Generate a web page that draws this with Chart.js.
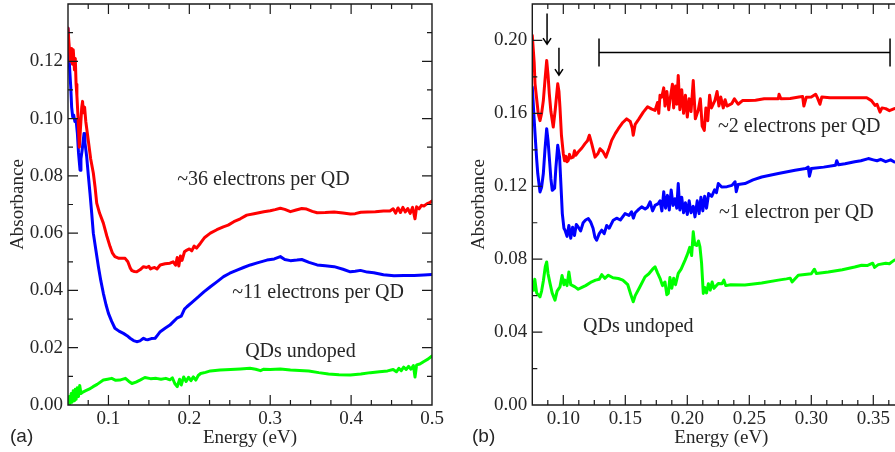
<!DOCTYPE html>
<html><head><meta charset="utf-8">
<script src="https://cdn.jsdelivr.net/npm/chart.js@4/dist/chart.umd.min.js"></script>
<style>
html,body{margin:0;padding:0;background:#fff;overflow:hidden;width:895px;height:452px;position:relative;}
#wa{position:absolute;left:0;top:0;width:445px;height:452px;}
#wb{position:absolute;left:445px;top:0;width:480px;height:452px;}
canvas{display:block;}
</style></head><body>
<div id="wa"><canvas id="ca" width="445" height="452"></canvas></div>
<div id="wb"><canvas id="cb" width="480" height="452"></canvas></div>
<script>
// ---------- Panel (a) data: [energy eV, absorbance] ----------
const aLabels = ["~36 electrons per QD", "~11 electrons per QD", "QDs undoped"];
const aXTicks = [0.1, 0.2, 0.3, 0.4, 0.5];
const aYTicks = [0.00, 0.02, 0.04, 0.06, 0.08, 0.10, 0.12];
const aRed = [[0.050,0.1315],[0.0515,0.125],[0.053,0.120],[0.0545,0.1245],[0.0555,0.119],[0.0565,0.124],[0.058,0.117],[0.059,0.121],[0.060,0.112],[0.061,0.108],[0.0625,0.100],[0.064,0.090],[0.0655,0.097],[0.067,0.104],[0.068,0.106],[0.069,0.102],[0.0705,0.104],[0.072,0.099],[0.075,0.0925],[0.078,0.086],[0.0813,0.081],[0.0835,0.076],[0.0855,0.0705],[0.089,0.067],[0.0937,0.0635],[0.098,0.059],[0.102,0.0553],[0.105,0.053],[0.108,0.0518],[0.113,0.0512],[0.1206,0.0512],[0.124,0.050],[0.127,0.0478],[0.129,0.0469],[0.132,0.0466],[0.135,0.0465],[0.139,0.0472],[0.1433,0.0483],[0.147,0.048],[0.150,0.0484],[0.152,0.0475],[0.154,0.0478],[0.157,0.048],[0.160,0.0475],[0.164,0.0489],[0.170,0.0493],[0.176,0.0495],[0.180,0.050],[0.183,0.0488],[0.185,0.0515],[0.187,0.0485],[0.189,0.052],[0.191,0.0505],[0.194,0.0535],[0.197,0.0541],[0.200,0.0545],[0.203,0.0538],[0.206,0.0555],[0.209,0.0548],[0.2135,0.0564],[0.219,0.0585],[0.226,0.060],[0.234,0.0612],[0.242,0.0622],[0.248,0.0628],[0.255,0.064],[0.263,0.065],[0.271,0.0663],[0.280,0.0668],[0.292,0.0675],[0.300,0.0678],[0.306,0.0682],[0.3125,0.0687],[0.318,0.0683],[0.325,0.0675],[0.332,0.0681],[0.339,0.0686],[0.345,0.0684],[0.352,0.0676],[0.358,0.0671],[0.368,0.0672],[0.379,0.0674],[0.390,0.067],[0.399,0.0667],[0.405,0.0668],[0.412,0.0673],[0.420,0.0674],[0.430,0.0675],[0.440,0.0677],[0.448,0.0677],[0.452,0.0685],[0.455,0.067],[0.458,0.0688],[0.461,0.0672],[0.464,0.069],[0.467,0.0674],[0.470,0.0686],[0.473,0.0669],[0.476,0.069],[0.479,0.065],[0.481,0.0692],[0.484,0.0685],[0.487,0.0697],[0.490,0.0695],[0.494,0.0703],[0.497,0.0706],[0.500,0.0712]];
const aBlue = [[0.050,0.1315],[0.0515,0.120],[0.0534,0.111],[0.0545,0.104],[0.0558,0.1006],[0.057,0.1012],[0.0585,0.099],[0.060,0.0995],[0.0616,0.0948],[0.063,0.088],[0.0649,0.082],[0.066,0.086],[0.0675,0.089],[0.0698,0.0948],[0.071,0.0915],[0.0731,0.0867],[0.0752,0.080],[0.0772,0.0739],[0.0793,0.067],[0.0813,0.060],[0.0845,0.054],[0.0876,0.0483],[0.0905,0.0435],[0.0937,0.039],[0.097,0.035],[0.100,0.032],[0.104,0.0292],[0.108,0.0268],[0.113,0.0258],[0.1185,0.025],[0.123,0.0242],[0.1268,0.0233],[0.131,0.0225],[0.135,0.0221],[0.139,0.0224],[0.1433,0.0233],[0.146,0.0229],[0.149,0.0228],[0.153,0.0232],[0.1577,0.0233],[0.161,0.0245],[0.164,0.0256],[0.170,0.0268],[0.176,0.0279],[0.180,0.029],[0.1846,0.0303],[0.190,0.031],[0.194,0.0335],[0.197,0.0343],[0.204,0.036],[0.2114,0.0378],[0.218,0.0395],[0.226,0.0413],[0.234,0.043],[0.2423,0.0448],[0.250,0.046],[0.259,0.0471],[0.267,0.048],[0.2754,0.0489],[0.285,0.0497],[0.296,0.0506],[0.305,0.051],[0.3125,0.0518],[0.318,0.0508],[0.325,0.0504],[0.333,0.0506],[0.339,0.0508],[0.348,0.0498],[0.358,0.0489],[0.368,0.0486],[0.379,0.0483],[0.390,0.0474],[0.399,0.0465],[0.405,0.0467],[0.4115,0.047],[0.420,0.0464],[0.428,0.0462],[0.440,0.0455],[0.453,0.0451],[0.465,0.0452],[0.478,0.0452],[0.490,0.0454],[0.500,0.0456]];
const aGreen = [[0.050,0.0006],[0.0515,0.003],[0.0525,0.0005],[0.054,0.004],[0.055,0.001],[0.0565,0.005],[0.058,0.0015],[0.059,0.0055],[0.060,0.002],[0.0615,0.006],[0.063,0.003],[0.0645,0.0068],[0.066,0.004],[0.069,0.0046],[0.072,0.005],[0.076,0.0055],[0.081,0.0064],[0.086,0.0072],[0.0937,0.0087],[0.099,0.009],[0.104,0.0093],[0.109,0.0086],[0.114,0.0087],[0.121,0.0093],[0.125,0.0083],[0.129,0.0075],[0.134,0.008],[0.139,0.0087],[0.145,0.0096],[0.152,0.0092],[0.159,0.0093],[0.165,0.009],[0.171,0.0093],[0.176,0.0088],[0.179,0.0095],[0.182,0.0075],[0.185,0.0064],[0.188,0.009],[0.190,0.007],[0.193,0.0098],[0.196,0.0082],[0.199,0.0097],[0.202,0.0085],[0.205,0.0098],[0.208,0.0087],[0.211,0.0103],[0.214,0.011],[0.220,0.0114],[0.226,0.0119],[0.238,0.0122],[0.251,0.0124],[0.263,0.0126],[0.275,0.0128],[0.282,0.0125],[0.288,0.012],[0.292,0.0125],[0.300,0.0124],[0.3125,0.0126],[0.325,0.0122],[0.3476,0.0119],[0.360,0.0113],[0.372,0.0108],[0.385,0.0106],[0.399,0.0105],[0.412,0.0108],[0.424,0.0113],[0.435,0.0116],[0.445,0.0119],[0.452,0.0124],[0.456,0.0116],[0.459,0.0128],[0.462,0.012],[0.465,0.0132],[0.468,0.0124],[0.471,0.0135],[0.474,0.0125],[0.477,0.0138],[0.479,0.0098],[0.481,0.014],[0.485,0.0143],[0.490,0.0152],[0.495,0.016],[0.500,0.0171]];

// ---------- Panel (b) data ----------
const bLabels = ["~2 electrons per QD", "~1 electron per QD", "QDs undoped"];
const bXTicks = [0.10, 0.15, 0.20, 0.25, 0.30, 0.35];
const bYTicks = [0.00, 0.04, 0.08, 0.12, 0.16, 0.20];
const bArrowsE = [0.0869, 0.0965];
const bArrowsTop = [0.2148, 0.196];
const bArrowsTip = [0.198, 0.181];
const bRangeE = [0.1288, 0.3635];
const bRangeA = 0.1934;
const bRed = [[0.075,0.2027],[0.0765,0.188],[0.0772,0.1762],[0.0785,0.168],[0.0798,0.1598],[0.0812,0.156],[0.0825,0.160],[0.0839,0.167],[0.0852,0.178],[0.0866,0.189],[0.0877,0.181],[0.0887,0.1708],[0.090,0.161],[0.0919,0.1525],[0.0935,0.162],[0.0955,0.1762],[0.0965,0.172],[0.0973,0.1635],[0.0985,0.148],[0.100,0.1379],[0.101,0.134],[0.102,0.1365],[0.103,0.1335],[0.104,0.1342],[0.105,0.1375],[0.106,0.1355],[0.108,0.136],[0.109,0.1395],[0.110,0.137],[0.112,0.1388],[0.115,0.141],[0.1175,0.1434],[0.1195,0.145],[0.121,0.148],[0.1229,0.1434],[0.1245,0.139],[0.1256,0.136],[0.128,0.138],[0.1296,0.1406],[0.132,0.139],[0.1344,0.136],[0.137,0.141],[0.139,0.1452],[0.142,0.149],[0.1444,0.1516],[0.148,0.155],[0.1511,0.157],[0.154,0.1555],[0.1556,0.152],[0.1564,0.148],[0.158,0.154],[0.161,0.157],[0.1645,0.1607],[0.168,0.1636],[0.171,0.1625],[0.174,0.1616],[0.176,0.166],[0.177,0.160],[0.178,0.170],[0.1794,0.1689],[0.181,0.174],[0.182,0.164],[0.1835,0.172],[0.185,0.162],[0.186,0.1671],[0.188,0.176],[0.189,0.163],[0.1905,0.175],[0.1915,0.165],[0.1927,0.1808],[0.194,0.162],[0.1955,0.173],[0.197,0.160],[0.1985,0.170],[0.200,0.158],[0.2015,0.168],[0.203,0.161],[0.2048,0.178],[0.2065,0.157],[0.2089,0.162],[0.2105,0.168],[0.212,0.153],[0.2137,0.1507],[0.215,0.163],[0.2165,0.156],[0.218,0.170],[0.2195,0.163],[0.2223,0.1671],[0.224,0.172],[0.2255,0.164],[0.227,0.169],[0.229,0.163],[0.2305,0.1675],[0.232,0.164],[0.2358,0.1653],[0.238,0.168],[0.241,0.165],[0.2445,0.167],[0.2492,0.1671],[0.255,0.1672],[0.262,0.168],[0.2734,0.168],[0.274,0.1705],[0.2755,0.168],[0.283,0.1682],[0.290,0.169],[0.293,0.1692],[0.294,0.164],[0.296,0.1689],[0.300,0.169],[0.3035,0.1705],[0.305,0.1685],[0.307,0.165],[0.3085,0.169],[0.315,0.1686],[0.3272,0.1686],[0.335,0.1686],[0.3447,0.1686],[0.3485,0.167],[0.3514,0.1644],[0.353,0.165],[0.3554,0.1607],[0.357,0.163],[0.360,0.1626],[0.363,0.1615],[0.367,0.1626]];
const bBlue = [[0.075,0.1744],[0.0762,0.160],[0.0772,0.1489],[0.0785,0.135],[0.0794,0.127],[0.0812,0.1169],[0.0825,0.1195],[0.0839,0.127],[0.0852,0.140],[0.0866,0.1516],[0.0877,0.145],[0.0887,0.136],[0.090,0.124],[0.0911,0.1178],[0.093,0.119],[0.094,0.130],[0.0955,0.1425],[0.097,0.136],[0.0985,0.115],[0.0992,0.105],[0.1005,0.097],[0.1014,0.0959],[0.103,0.0925],[0.1045,0.0985],[0.106,0.0915],[0.1075,0.0975],[0.109,0.093],[0.1105,0.099],[0.112,0.0977],[0.114,0.0955],[0.116,0.100],[0.118,0.1015],[0.1202,0.1023],[0.122,0.1005],[0.124,0.097],[0.1255,0.092],[0.1269,0.0904],[0.129,0.094],[0.131,0.0959],[0.133,0.094],[0.135,0.0985],[0.137,0.097],[0.1403,0.1014],[0.143,0.1025],[0.146,0.1015],[0.1498,0.105],[0.153,0.104],[0.155,0.106],[0.1565,0.1025],[0.158,0.1055],[0.161,0.1075],[0.1632,0.1087],[0.166,0.1075],[0.168,0.1085],[0.170,0.1115],[0.172,0.1065],[0.174,0.1095],[0.1766,0.1105],[0.178,0.112],[0.1795,0.1065],[0.181,0.117],[0.1825,0.108],[0.184,0.115],[0.1855,0.107],[0.187,0.118],[0.1885,0.1095],[0.190,0.1132],[0.1915,0.108],[0.1927,0.1215],[0.194,0.107],[0.1955,0.114],[0.197,0.1055],[0.1985,0.111],[0.200,0.1045],[0.2015,0.112],[0.203,0.1055],[0.2048,0.109],[0.2062,0.1032],[0.208,0.112],[0.2095,0.105],[0.211,0.114],[0.2125,0.1065],[0.214,0.1145],[0.2155,0.108],[0.2172,0.116],[0.2197,0.1145],[0.222,0.118],[0.2235,0.1165],[0.225,0.1215],[0.2277,0.1196],[0.232,0.1198],[0.236,0.1205],[0.2385,0.1225],[0.2395,0.117],[0.241,0.121],[0.2465,0.1215],[0.253,0.1235],[0.260,0.1251],[0.2734,0.127],[0.2869,0.1288],[0.2955,0.1297],[0.2975,0.1305],[0.2985,0.1255],[0.300,0.1297],[0.310,0.1305],[0.3195,0.1315],[0.3205,0.134],[0.322,0.1318],[0.3272,0.1324],[0.335,0.1335],[0.340,0.134],[0.346,0.1352],[0.350,0.1345],[0.353,0.134],[0.356,0.1348],[0.360,0.1335],[0.364,0.1345],[0.367,0.1333]];
const bGreen = [[0.075,0.0676],[0.0762,0.063],[0.077,0.069],[0.0785,0.0615],[0.0812,0.0593],[0.0825,0.0625],[0.0839,0.068],[0.0855,0.076],[0.0866,0.0785],[0.0877,0.072],[0.0893,0.0667],[0.091,0.0615],[0.0933,0.0575],[0.095,0.0625],[0.0973,0.0648],[0.099,0.071],[0.1005,0.066],[0.1014,0.0685],[0.103,0.0655],[0.1045,0.073],[0.106,0.066],[0.1094,0.0648],[0.112,0.0635],[0.115,0.0645],[0.118,0.0655],[0.1229,0.0676],[0.126,0.0685],[0.129,0.069],[0.131,0.0715],[0.1335,0.0695],[0.1363,0.0712],[0.140,0.0698],[0.1444,0.0694],[0.148,0.0685],[0.152,0.066],[0.1545,0.0605],[0.1564,0.0566],[0.158,0.060],[0.1615,0.0645],[0.1659,0.0703],[0.169,0.072],[0.172,0.0745],[0.174,0.0758],[0.176,0.0725],[0.178,0.0695],[0.180,0.0655],[0.182,0.0675],[0.1835,0.0605],[0.1847,0.0612],[0.186,0.070],[0.1875,0.064],[0.189,0.0695],[0.1905,0.066],[0.1927,0.0722],[0.195,0.0745],[0.1982,0.0795],[0.200,0.0825],[0.202,0.0865],[0.2035,0.082],[0.2048,0.095],[0.206,0.088],[0.2075,0.0875],[0.209,0.090],[0.2102,0.0867],[0.2115,0.078],[0.2129,0.0612],[0.214,0.0645],[0.2155,0.0615],[0.217,0.0665],[0.2185,0.063],[0.220,0.0675],[0.2215,0.064],[0.225,0.0667],[0.228,0.0665],[0.2295,0.0685],[0.231,0.0655],[0.235,0.066],[0.2465,0.0658],[0.260,0.0669],[0.2734,0.0685],[0.280,0.0692],[0.283,0.0696],[0.2845,0.0675],[0.2895,0.0712],[0.300,0.072],[0.3025,0.0745],[0.304,0.0722],[0.3137,0.073],[0.325,0.0742],[0.335,0.0757],[0.3406,0.0767],[0.345,0.0765],[0.3495,0.0778],[0.351,0.0755],[0.354,0.077],[0.360,0.0778],[0.363,0.0775],[0.365,0.0785],[0.367,0.0795]];

// label anchor points (data coordinates, left edge / vertical middle)
const aLabelPos = [[0.185,0.0785],[0.253,0.0391],[0.269,0.0185]];
const bLabelPos = [[0.2248,0.1529],[0.2256,0.1052],[0.1159,0.0427]];

const SERIF = '"Liberation Serif","Times New Roman",serif';
const TXT = '#262626';

function toXY(arr){ return arr.map(p => ({x:p[0], y:p[1]})); }

function ds(arr, color){
  return {data: toXY(arr), borderColor: color, backgroundColor: color, borderWidth: 3,
          pointRadius: 0, tension: 0, fill: false, borderJoinStyle: 'round', borderCapStyle:'round'};
}

function makePanel(id, p){
  const decorations = {
    id: 'decor_' + id,
    afterDatasetsDraw(chart){
      const {ctx, chartArea: ca, scales:{x, y}} = chart;
      ctx.save();
      ctx.strokeStyle = '#1a1a1a';
      ctx.lineWidth = 1.4;
      ctx.beginPath();
      ctx.rect(ca.left, ca.top, ca.right - ca.left, ca.bottom - ca.top);
      ctx.stroke();
      ctx.lineWidth = 1.2;
      const kx0 = Math.ceil(p.xMin / p.xMinor - 1e-6), kx1 = Math.floor(p.xMax / p.xMinor + 1e-6);
      for (let k = kx0; k <= kx1; k++){
        const v = k * p.xMinor;
        const major = Math.abs(v / p.xMajor - Math.round(v / p.xMajor)) < 1e-6;
        const px = x.getPixelForValue(v);
        if (px <= ca.left + 0.5 || px >= ca.right - 0.5) continue;
        const L = major ? 10 : 5;
        ctx.beginPath();
        ctx.moveTo(px, ca.bottom); ctx.lineTo(px, ca.bottom - L);
        ctx.moveTo(px, ca.top); ctx.lineTo(px, ca.top + L);
        ctx.stroke();
      }
      const ky0 = Math.ceil(p.yMin / p.yMinor - 1e-6), ky1 = Math.floor(p.yMax / p.yMinor + 1e-6);
      for (let k = ky0; k <= ky1; k++){
        const v = k * p.yMinor;
        const major = Math.abs(v / p.yMajor - Math.round(v / p.yMajor)) < 1e-6;
        const py = y.getPixelForValue(v);
        if (py <= ca.top + 0.5 || py >= ca.bottom - 0.5) continue;
        const L = major ? 10 : 5;
        ctx.beginPath();
        ctx.moveTo(ca.left, py); ctx.lineTo(ca.left + L, py);
        ctx.moveTo(ca.right, py); ctx.lineTo(ca.right - L, py);
        ctx.stroke();
      }
      ctx.restore();
    },
    afterDraw(chart){
      const {ctx, scales:{x, y}} = chart;
      ctx.save();
      ctx.fillStyle = TXT;
      ctx.font = '20px ' + SERIF;
      ctx.textAlign = 'left';
      ctx.textBaseline = 'middle';
      p.labels.forEach((t, i) => {
        ctx.fillText(t, x.getPixelForValue(p.labelPos[i][0]), y.getPixelForValue(p.labelPos[i][1]));
      });
      ctx.font = '19px "Liberation Sans",Arial,sans-serif';
      ctx.fillText(p.letter, p.letterX, 437);
      ctx.strokeStyle = '#000';
      ctx.lineWidth = 1.5;
      if (p.arrowsE){
        p.arrowsE.forEach((e, i) => {
          const px = x.getPixelForValue(e);
          const y0 = y.getPixelForValue(p.arrowsTop[i]);
          const y1 = y.getPixelForValue(p.arrowsTip[i]);
          ctx.beginPath();
          ctx.moveTo(px, y0); ctx.lineTo(px, y1);
          ctx.moveTo(px - 4, y1 - 6); ctx.lineTo(px, y1); ctx.lineTo(px + 4, y1 - 6);
          ctx.stroke();
        });
      }
      if (p.rangeE){
        const xa = x.getPixelForValue(p.rangeE[0]);
        const xb = x.getPixelForValue(p.rangeE[1]);
        const py = y.getPixelForValue(p.rangeA);
        ctx.beginPath();
        ctx.moveTo(xa, py); ctx.lineTo(xb, py);
        ctx.moveTo(xa, py - 14); ctx.lineTo(xa, py + 14);
        ctx.moveTo(xb, py - 14); ctx.lineTo(xb, py + 14);
        ctx.stroke();
      }
      ctx.restore();
    }
  };

  return new Chart(document.getElementById(id), {
    type: 'line',
    data: { datasets: [ds(p.red, '#ff0000'), ds(p.blue, '#0000ff'), ds(p.green, '#00ff00')] },
    options: {
      responsive: false, animation: false, devicePixelRatio: 1,
      layout: { padding: { left: 0, top: 4, right: p.padRight, bottom: 0 } },
      plugins: { legend: { display: false }, tooltip: { enabled: false } },
      scales: {
        x: {
          type: 'linear', min: p.xMin, max: p.xMax,
          grid: { display: false, drawTicks: false }, border: { display: false },
          afterBuildTicks: s => { s.ticks = p.xTicks.map(v => ({ value: v })); },
          afterFit: s => { s.height = 47; s.paddingLeft = 0; s.paddingRight = 0; },
          ticks: { autoSkip: false, maxRotation: 0, padding: 3, color: TXT,
                   font: { family: SERIF, size: 19 }, callback: v => Number(v).toFixed(p.xDec) },
          title: { display: true, text: 'Energy (eV)', color: TXT,
                   font: { family: SERIF, size: 19, lineHeight: 1.2 }, padding: { top: 0, bottom: 3 } }
        },
        y: {
          type: 'linear', min: p.yMin, max: p.yMax,
          grid: { display: false, drawTicks: false }, border: { display: false },
          afterBuildTicks: s => { s.ticks = p.yTicks.map(v => ({ value: v })); },
          afterFit: s => { s.width = p.yWidth; s.paddingTop = 0; s.paddingBottom = 0; },
          ticks: { autoSkip: false, padding: 5, color: TXT,
                   font: { family: SERIF, size: 19 }, callback: v => Number(v).toFixed(2) },
          title: { display: true, text: 'Absorbance', color: TXT,
                   font: { family: SERIF, size: 19, lineHeight: 1.2 }, padding: { top: p.yTitlePad, bottom: 0 } }
        }
      }
    },
    plugins: [decorations]
  });
}

makePanel('ca', {
  red: aRed, blue: aBlue, green: aGreen,
  xMin: 0.05, xMax: 0.5, yMin: 0, yMax: 0.14,
  xTicks: aXTicks, yTicks: aYTicks, xMajor: 0.1, xMinor: 0.025, yMajor: 0.02, yMinor: 0.01,
  xDec: 1, yWidth: 68, padRight: 13, yTitlePad: 7,
  labels: aLabels, labelPos: aLabelPos, letter: '(a)', letterX: 10
});

makePanel('cb', {
  red: bRed, blue: bBlue, green: bGreen,
  xMin: 0.075, xMax: 0.38, yMin: 0, yMax: 0.22,
  xTicks: bXTicks, yTicks: bYTicks, xMajor: 0.05, xMinor: 0.0125, yMajor: 0.04, yMinor: 0.02,
  xDec: 2, yWidth: 87.3, padRight: 14.5, yTitlePad: 23,
  labels: bLabels, labelPos: bLabelPos, letter: '(b)', letterX: 27,
  arrowsE: bArrowsE, arrowsTop: bArrowsTop, arrowsTip: bArrowsTip, rangeE: bRangeE, rangeA: bRangeA
});
</script>
</body></html>
